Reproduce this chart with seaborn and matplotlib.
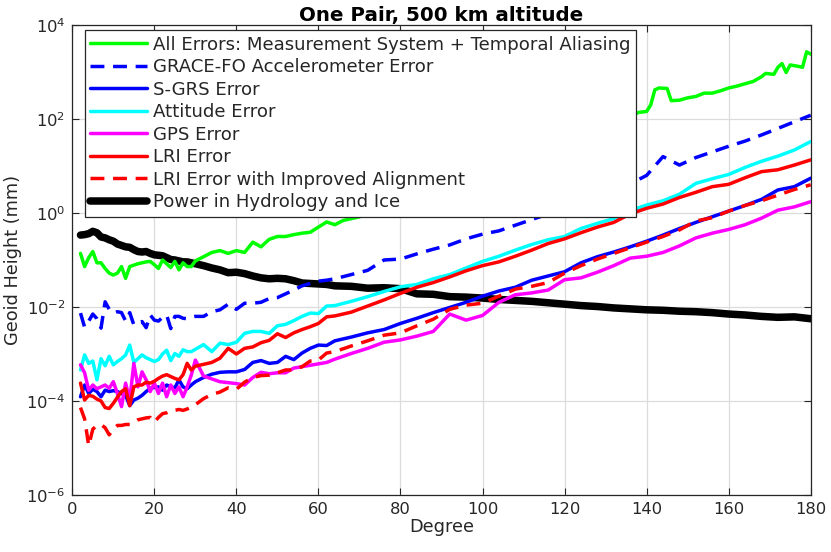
import numpy as np
import pandas as pd
import matplotlib
matplotlib.use('Agg')
import matplotlib.pyplot as plt
import seaborn as sns

# Plot style settings
sns.set_style('ticks')
plt.rcParams['font.family'] = ['DejaVu Sans']
plt.rcParams['lines.dashed_pattern'] = [4.0, 2.5]
plt.rcParams['xtick.direction'] = 'in'
plt.rcParams['ytick.direction'] = 'in'

# Spherical harmonic degree grid shared by most curves
degree = [2, 3, 4, 5, 6, 7, 8, 9, 10, 11, 12, 13, 14, 15, 16, 17, 18, 19, 20,
          21, 22, 23, 24, 25, 26, 27, 28, 29, 30,
          32, 34, 36, 38, 40, 42, 44, 46, 48, 50, 52, 54, 56, 58, 60, 62, 64,
          68, 72, 76, 80, 84, 88, 92, 96, 100, 104, 108, 112, 116, 120, 124,
          128, 132, 136, 140, 144, 148, 152, 156, 160, 164, 168, 172, 176, 180]

# log10 of geoid height (mm)
hydro_log = [-0.47, -0.46, -0.44, -0.39, -0.42, -0.51, -0.53, -0.57, -0.60, -0.66,
             -0.69, -0.72, -0.73, -0.78, -0.82, -0.83, -0.82, -0.86, -0.89,
             -0.90, -0.91, -0.95, -0.99, -1.00, -1.02, -1.04, -1.04, -1.06, -1.08,
             -1.12, -1.17, -1.21, -1.27, -1.26, -1.29, -1.34, -1.38, -1.40, -1.39,
             -1.40, -1.44, -1.49, -1.50, -1.51, -1.52, -1.55,
             -1.56, -1.60, -1.59, -1.61, -1.72, -1.73, -1.78, -1.79, -1.81, -1.84,
             -1.86, -1.88, -1.91, -1.94, -1.97, -1.99, -2.02, -2.04, -2.06, -2.07,
             -2.09, -2.10, -2.12, -2.15, -2.17, -2.20, -2.22, -2.21, -2.25]

accel_log = [-2.13, -2.43, -2.30, -2.15, -2.25, -2.45, -1.89, -2.05, -2.13, -2.10,
             -2.12, -2.30, -2.12, -2.38, -2.33, -2.31, -2.44, -2.17, -2.28,
             -2.30, -2.22, -2.17, -2.46, -2.20, -2.20, -2.24, -2.25, -2.22, -2.20,
             -2.20, -2.10, -2.06, -1.94, -2.05, -1.92, -1.92, -1.90, -1.82, -1.80,
             -1.72, -1.64, -1.55, -1.50, -1.45, -1.43, -1.40,
             -1.31, -1.22, -1.00, -0.98, -0.87, -0.77, -0.68, -0.55, -0.45, -0.38,
             -0.26, -0.14, -0.02, 0.10, 0.22, 0.35, 0.48, 0.62, 0.80, 1.20,
             1.02, 1.18, 1.30, 1.42, 1.53, 1.66, 1.80, 1.94, 2.08]

sgrs_log = [-3.91, -3.66, -3.84, -3.75, -3.80, -3.91, -3.77, -3.80, -3.78, -3.80,
            -3.84, -3.88, -4.10, -3.98, -3.94, -3.88, -3.80, -3.73, -3.71,
            -3.70, -3.77, -3.66, -3.70, -3.72, -3.55, -3.70, -3.74, -3.66, -3.59,
            -3.50, -3.43, -3.39, -3.38, -3.38, -3.33, -3.18, -3.14, -3.20, -3.18,
            -3.05, -3.12, -2.98, -2.88, -2.81, -2.82, -2.72,
            -2.64, -2.55, -2.48, -2.35, -2.24, -2.12, -2.01, -1.90, -1.77, -1.66,
            -1.58, -1.43, -1.34, -1.25, -1.06, -0.93, -0.83, -0.72, -0.60, -0.47,
            -0.33, -0.20, -0.08, 0.04, 0.16, 0.29, 0.49, 0.56, 0.74]

attitude_log = [-3.34, -3.02, -3.20, -3.15, -3.55, -3.10, -3.25, -3.05, -3.23, -3.16,
                -3.10, -3.02, -2.81, -3.18, -3.10, -3.02, -3.08, -3.12, -3.16,
                -3.12, -3.00, -2.92, -3.14, -2.99, -3.05, -2.91, -2.95, -2.95, -2.90,
                -2.80, -2.95, -2.77, -2.80, -2.75, -2.56, -2.52, -2.52, -2.56, -2.40,
                -2.37, -2.29, -2.20, -2.13, -2.14, -1.98, -1.97,
                -1.88, -1.78, -1.67, -1.57, -1.52, -1.40, -1.31, -1.17, -1.03, -0.92,
                -0.79, -0.67, -0.57, -0.50, -0.33, -0.22, -0.12, 0.05, 0.17, 0.26,
                0.40, 0.63, 0.73, 0.82, 0.97, 1.10, 1.21, 1.34, 1.52]

gps_log = [-3.23, -3.40, -3.77, -3.66, -3.74, -3.70, -3.66, -3.73, -3.59, -3.84,
           -4.12, -3.62, -3.98, -3.20, -3.70, -3.38, -3.55, -3.80, -3.62,
           -3.84, -3.62, -3.91, -3.66, -3.84, -3.70, -3.91, -3.70, -3.45, -3.13,
           -3.47, -3.53, -3.59, -3.61, -3.63, -3.66, -3.50, -3.39, -3.42, -3.40,
           -3.40, -3.30, -3.27, -3.24, -3.21, -3.18, -3.11,
           -2.99, -2.88, -2.75, -2.70, -2.62, -2.52, -2.15, -2.28, -2.18, -1.90,
           -1.74, -1.70, -1.64, -1.42, -1.38, -1.26, -1.12, -0.96, -0.92, -0.84,
           -0.70, -0.53, -0.43, -0.35, -0.25, -0.11, 0.06, 0.13, 0.24]

lri_log = [-3.62, -3.98, -3.88, -3.90, -3.96, -4.00, -4.14, -4.16, -4.05, -3.92,
           -3.80, -3.74, -4.10, -3.70, -3.66, -3.66, -3.60, -3.62, -3.58,
           -3.52, -3.47, -3.44, -3.48, -3.52, -3.55, -3.44, -3.20, -3.34, -3.26,
           -3.22, -3.18, -3.09, -2.88, -3.00, -2.88, -2.85, -2.76, -2.71, -2.57,
           -2.65, -2.55, -2.48, -2.42, -2.35, -2.21, -2.19,
           -2.11, -1.98, -1.85, -1.71, -1.58, -1.48, -1.36, -1.23, -1.12, -1.04,
           -0.92, -0.79, -0.65, -0.55, -0.42, -0.30, -0.20, -0.02, 0.10, 0.19,
           0.33, 0.44, 0.56, 0.61, 0.75, 0.88, 0.92, 1.02, 1.13]

lri_aligned_log = [-4.14, -4.38, -4.95, -4.60, -4.52, -4.50, -4.57, -4.72, -4.60, -4.52,
                   -4.52, -4.50, -4.50, -4.45, -4.40, -4.38, -4.36, -4.35, -4.45,
                   -4.35, -4.27, -4.25, -4.20, -4.20, -4.18, -4.20, -4.17, -4.13, -4.08,
                   -3.95, -3.86, -3.81, -3.72, -3.75, -3.60, -3.50, -3.46, -3.45, -3.40,
                   -3.34, -3.34, -3.27, -3.15, -3.13, -2.98, -2.95,
                   -2.83, -2.72, -2.60, -2.55, -2.40, -2.26, -2.05, -1.96, -1.92, -1.77,
                   -1.62, -1.56, -1.48, -1.28, -1.12, -0.98, -0.86, -0.74, -0.62, -0.50,
                   -0.36, -0.17, -0.10, 0.04, 0.16, 0.26, 0.38, 0.50, 0.60]

# The total-error curve has its own degree grid (sharper features near 140-180)
all_degree = [2, 3, 4, 5, 6, 7, 8, 9, 10, 11, 12, 13, 14, 15, 16, 17, 18, 19, 20,
              21, 22, 23, 24, 25, 26, 27, 28, 29, 30, 32, 34, 36, 38, 40, 42, 44,
              46, 48, 50, 52, 54, 56, 58, 60, 62, 64, 66, 70, 80, 90, 100, 110,
              120, 130, 136, 138, 140, 141, 142, 143, 145, 146, 148, 150, 152,
              154, 156, 158, 160, 162, 164, 166, 168, 169, 171, 172, 173, 174,
              175, 177, 178, 179, 180]
all_log = [-0.86, -1.14, -0.95, -0.82, -1.06, -1.06, -1.18, -1.28, -1.32, -1.28,
           -1.14, -1.39, -1.14, -1.11, -1.08, -1.06, -1.04, -1.03, -1.10,
           -1.18, -1.00, -1.08, -1.16, -1.03, -1.21, -1.06, -1.14, -1.14, -1.02,
           -0.93, -0.84, -0.80, -0.86, -0.80, -0.84, -0.62, -0.72, -0.56, -0.50,
           -0.50, -0.46, -0.43, -0.41, -0.30, -0.19, -0.25, -0.16, -0.08, 0.20,
           0.60, 0.90, 1.30, 1.60, 1.85, 2.05, 2.14, 2.16, 2.30, 2.62, 2.66,
           2.65, 2.39, 2.40, 2.45, 2.48, 2.55, 2.55, 2.60, 2.66, 2.70, 2.75,
           2.80, 2.90, 2.97, 2.95, 3.10, 3.18, 2.99, 3.15, 3.12, 3.10, 3.43, 3.38]

labels = ['All Errors: Measurement System + Temporal Aliasing',
          'GRACE-FO Accelerometer Error',
          'S-GRS Error',
          'Attitude Error',
          'GPS Error',
          'LRI Error',
          'LRI Error with Improved Alignment',
          'Power in Hydrology and Ice']

text_color = '#262626'
lw = 2.5

fig = plt.figure(figsize=(8.31, 5.52), dpi=100)
ax = fig.add_axes([0.087, 0.1033, 0.8886, 0.8514])

# Hydrology signal goes underneath the error curves
sns.lineplot(x=degree, y=np.power(10.0, hydro_log), ax=ax, color='black', lw=5.4,
             label=labels[7], zorder=2)
sns.lineplot(x=all_degree, y=np.power(10.0, all_log), ax=ax, color=(0, 1, 0), lw=lw,
             label=labels[0], zorder=3)
sns.lineplot(x=degree, y=np.power(10.0, accel_log), ax=ax, color=(0, 0, 1), lw=lw,
             linestyle='--', label=labels[1], zorder=3)
sns.lineplot(x=degree, y=np.power(10.0, sgrs_log), ax=ax, color=(0, 0, 1), lw=lw,
             label=labels[2], zorder=3)
sns.lineplot(x=degree, y=np.power(10.0, attitude_log), ax=ax, color=(0, 1, 1), lw=lw,
             label=labels[3], zorder=3)
sns.lineplot(x=degree, y=np.power(10.0, gps_log), ax=ax, color=(1, 0, 1), lw=lw,
             label=labels[4], zorder=3)
sns.lineplot(x=degree, y=np.power(10.0, lri_log), ax=ax, color=(1, 0, 0), lw=lw,
             label=labels[5], zorder=3)
sns.lineplot(x=degree, y=np.power(10.0, lri_aligned_log), ax=ax, color=(1, 0, 0), lw=lw,
             linestyle='--', label=labels[6], zorder=3)

ax.set_yscale('log')
ax.set_xlim(0, 180)
ax.set_ylim(1e-6, 1e4)
ax.set_xticks(range(0, 181, 20))
ax.set_yticks([1e-6, 1e-4, 1e-2, 1e0, 1e2, 1e4])
ax.yaxis.set_minor_locator(matplotlib.ticker.NullLocator())
ax.grid(True, color='#dcdcdc', lw=0.9, zorder=0)
ax.set_axisbelow(True)
ax.tick_params(axis='both', which='major', top=True, right=True, length=5,
               width=0.8, colors=text_color, labelsize=11.8, pad=5)
for side in ax.spines.values():
    side.set_color(text_color)
    side.set_linewidth(0.9)

ax.set_xlabel('Degree', fontsize=12.8, color=text_color, labelpad=1)
ax.set_ylabel('Geoid Height (mm)', fontsize=12.8, color=text_color, labelpad=3)
ax.set_title('One Pair, 500 km altitude', fontsize=14.3, fontweight='bold',
             color='black', pad=3)

# Legend in the same order as the reference
handle_map = dict(zip(*ax.get_legend_handles_labels()[::-1]))
handles = [handle_map[lab] for lab in labels]
leg = ax.legend(handles, labels, loc='upper left', bbox_to_anchor=(0.0167, 0.989),
                fontsize=13.05, fancybox=False, framealpha=1, edgecolor=text_color,
                handlelength=3.15, handletextpad=0.32, labelspacing=0.25,
                borderpad=0.3, borderaxespad=0)
leg.get_frame().set_linewidth(0.9)
leg.set_zorder(10)
for t in leg.get_texts():
    t.set_color(text_color)

fig.savefig('out.png', dpi=100)
